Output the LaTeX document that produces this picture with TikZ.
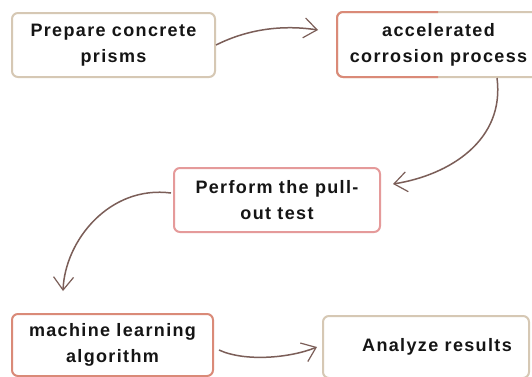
\documentclass[tikz,border=0pt]{standalone}
\usepackage{fontspec}
\setmainfont{Liberation Sans}[LetterSpace=7.5]
\usetikzlibrary{arrows.meta,calc}
\definecolor{beige}{HTML}{D6C8B4}
\definecolor{redb}{HTML}{DA8A78}
\definecolor{pinkb}{HTML}{E59A9A}
\definecolor{arrowc}{HTML}{7B5E58}
\definecolor{txt}{HTML}{151515}
\begin{document}
\begin{tikzpicture}[x=1pt,y=-1pt,
  box/.style={rectangle,rounded corners=6pt,line width=2pt,fill=white,
    align=center,font=\bfseries\fontsize{18}{26}\selectfont,text=txt,inner sep=0pt},
  conn/.style={arrowc,line width=1.5pt,-{Straight Barb[length=13pt,width=20pt,line width=1.2pt]}}]
\useasboundingbox (0,0) rectangle (532,376);
\fill[white] (0,0) rectangle (532,376);
\node[box,draw=beige,minimum width=203pt,minimum height=64pt] (b1) at (113.5,45) {Prepare concrete\\prisms};
\node[box,draw=beige,minimum width=203pt,minimum height=65pt] (b2) at (438.5,44.5) {accelerated\\corrosion process};
\begin{scope}
\clip (330,0) rectangle (438,90);
\draw[redb,line width=2pt,rounded corners=6pt] ($(b2.north west)+(1,1)$) rectangle ($(b2.south east)+(-1,-1)$);
\end{scope}
\node[box,draw=pinkb,minimum width=206pt,minimum height=64pt] (b3) at (277,200) {Perform the pull-\\out test};
\node[box,draw=redb,minimum width=201pt,minimum height=62pt] (b4) at (112.5,345) {machine learning\\algorithm};
\node[box,draw=beige,minimum width=206pt,minimum height=62pt] (b5) at (426,347) {\hspace*{22pt}Analyze results};
\coordinate (e1) at (318,30);
\coordinate (s2) at (497,78);
\coordinate (e2) at (393,184);
\coordinate (e3) at (63,291);
\coordinate (e4) at (317,347);
\draw[conn] (b1.east) .. controls (250,28) and (285,25) .. (e1);
\draw[conn] (s2) .. controls (505,140) and (450,175) .. (e2);
\draw[conn] ($(b3.west)+(-2,-7)$) .. controls (110,185) and (65,240) .. (e3);
\draw[conn] ($(b4.east)+(5,5)$) .. controls (245,362) and (290,358) .. (e4);
\end{tikzpicture}
\end{document}
